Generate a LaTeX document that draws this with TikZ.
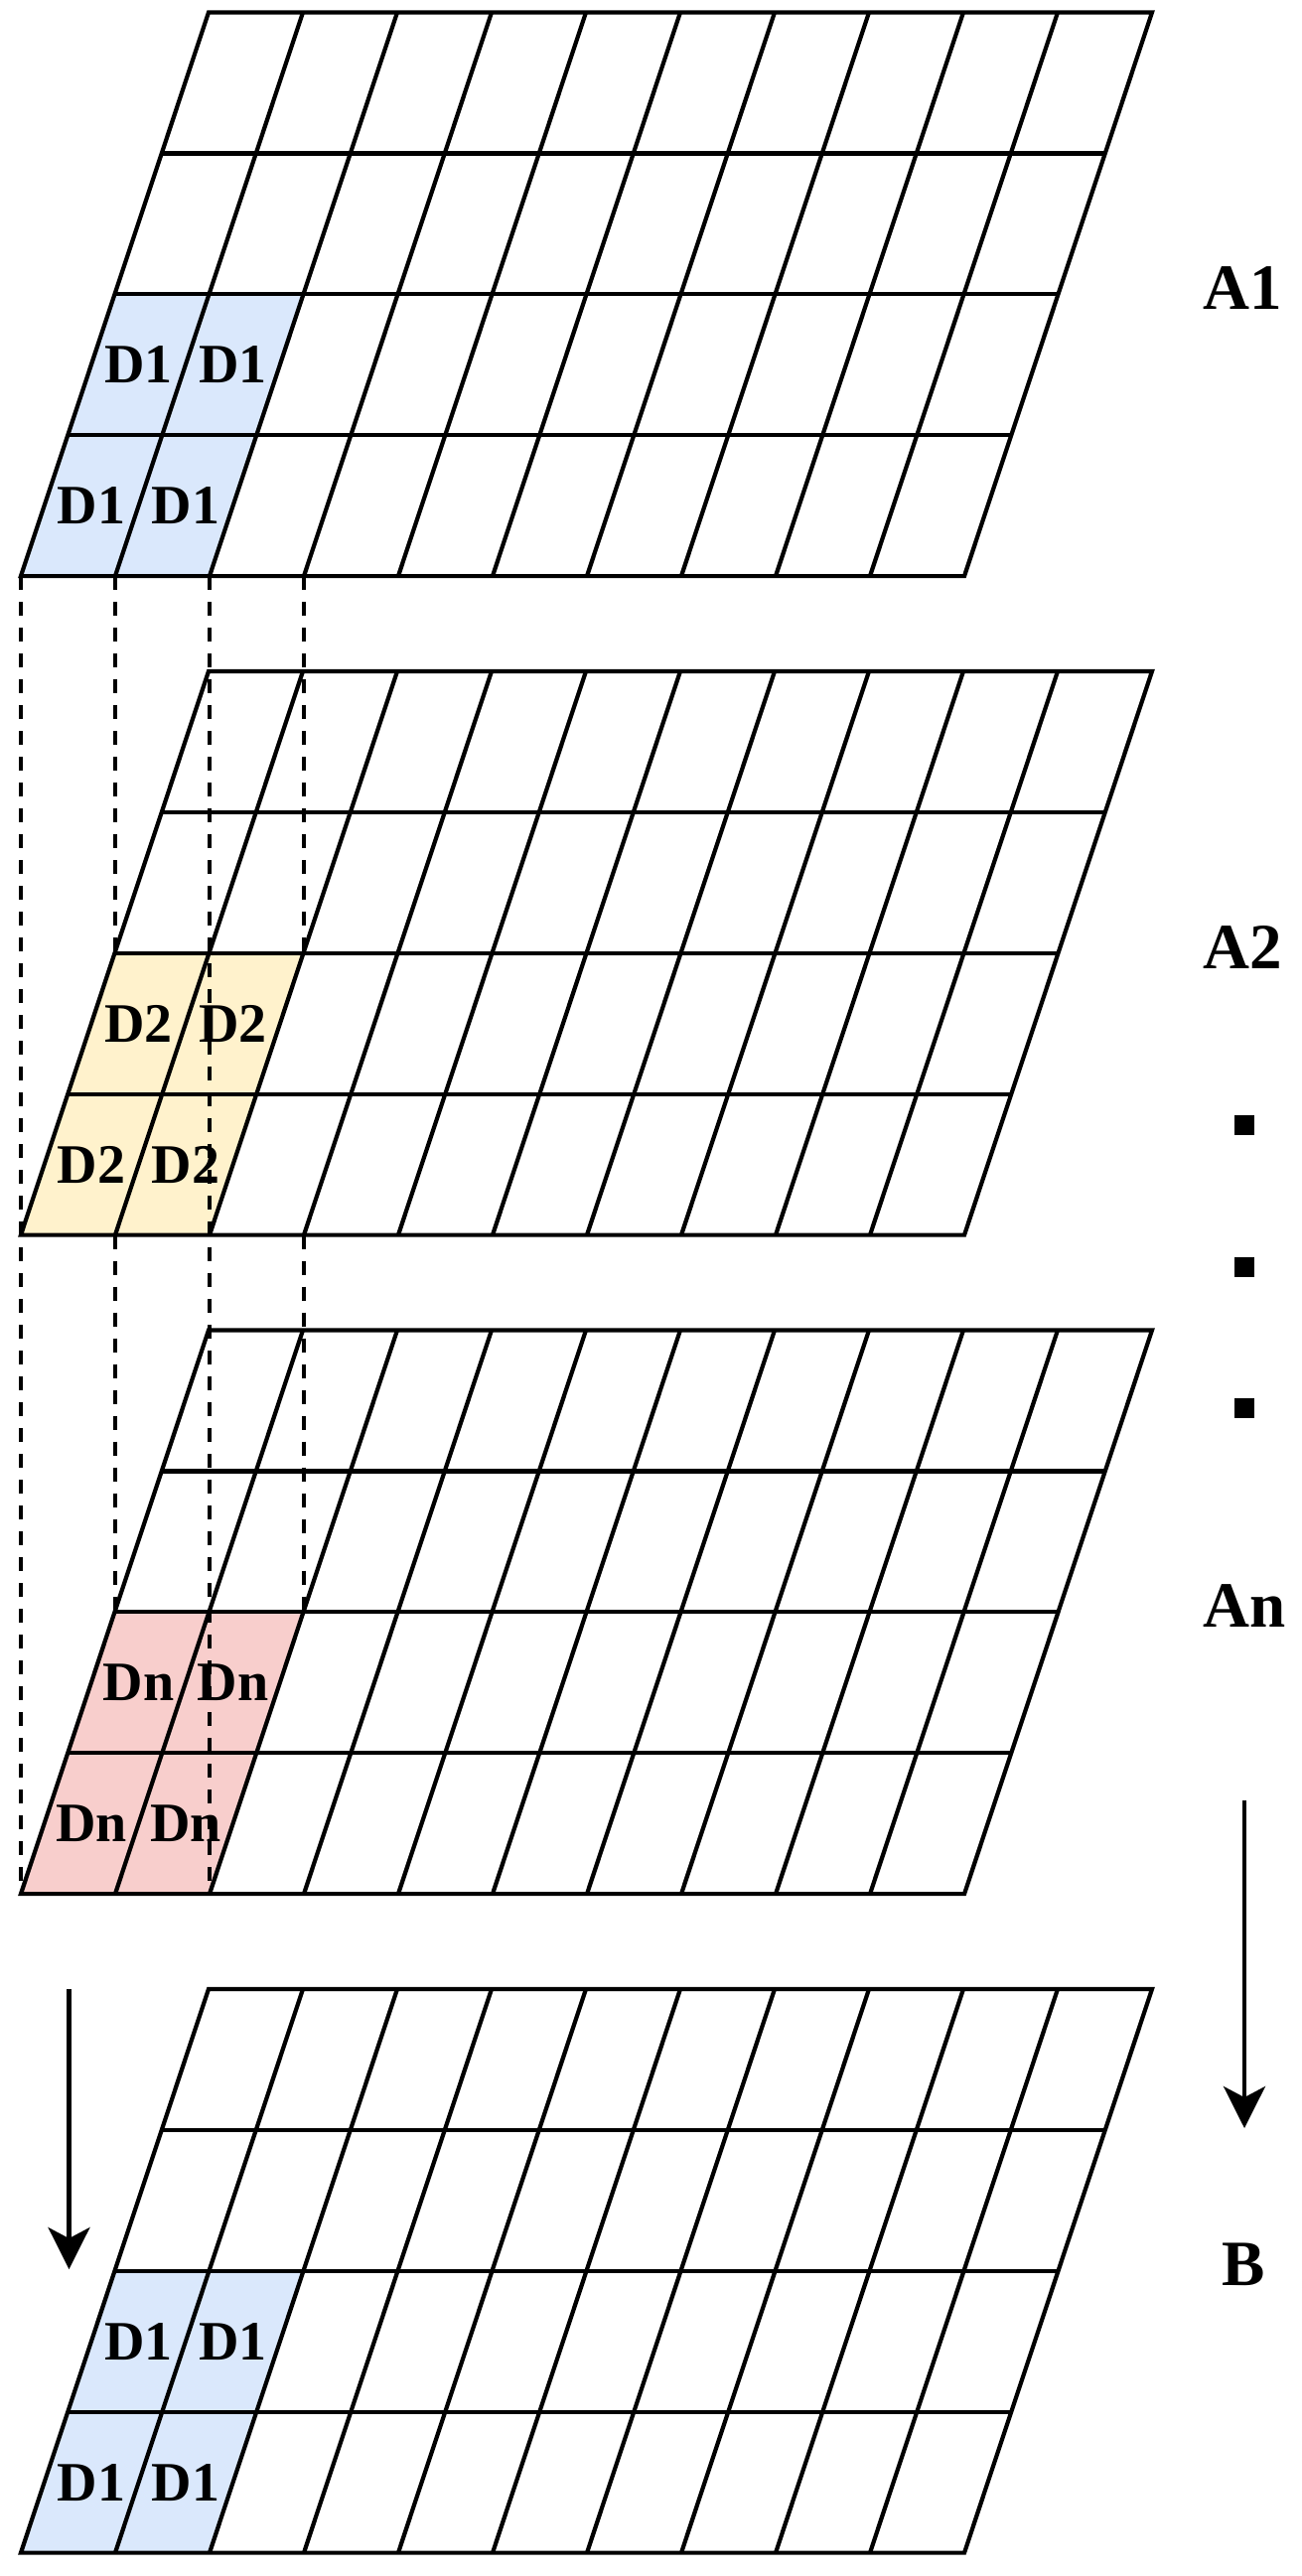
\documentclass[tikz,border=0pt]{standalone}
\usepackage{fontspec}
\setmainfont{Liberation Serif}
\usetikzlibrary{arrows.meta}
\definecolor{dblue}{HTML}{DAE8FC}
\definecolor{dyellow}{HTML}{FFF2CC}
\definecolor{dpink}{HTML}{F8CECC}
\tikzset{
  gridline/.style={line width=4.2pt, line join=miter},
  guide/.style={line width=4.2pt, dash pattern=on 14pt off 12pt},
  celltext/.style={font=\fontsize{56}{60}\selectfont\bfseries, inner sep=0pt},
  layertext/.style={font=\fontsize{65}{70}\selectfont\bfseries, inner sep=0pt},
  flow/.style={line width=4.2pt, -{Stealth[length=42pt,width=42pt,inset=11pt]}},
  dotbox/.style={fill=black, minimum size=20pt, inner sep=0pt, draw=none}
}
% #1 top y, #2 fill colour, #3 cell text, #4 name prefix
\newcommand\drawlayer[4]{%
  \fill[#2] (115.5,{#1+283.8}) -- (305.5,{#1+283.8}) -- (211,{#1+567.6}) -- (21,{#1+567.6}) -- cycle;
  \draw[gridline] (210,#1) -- (1160,#1) -- (971,{#1+567.6}) -- (21,{#1+567.6}) -- cycle;
  \foreach \i in {1,2,3}
    \draw[gridline] ({210-47.25*\i},{#1+141.9*\i}) -- ++(950,0);
  \foreach \j in {1,...,9}
    \draw[gridline] ({210+95*\j},#1) -- ({21+95*\j},{#1+567.6});
  \coordinate (#4-b0) at (21,{#1+567.6});
  \coordinate (#4-b1) at (116,{#1+567.6});
  \coordinate (#4-b2) at (211,{#1+567.6});
  \coordinate (#4-b3) at (306,{#1+567.6});
  \coordinate (#4-m0) at (115.5,{#1+283.8});
  \coordinate (#4-m2) at (305.5,{#1+283.8});
  \node[celltext] (#4-c20) at ({210-47.25*2.5+47.5},{#1+141.9*2.5}) {#3};
  \node[celltext] (#4-c21) at ({210-47.25*2.5+142.5},{#1+141.9*2.5}) {#3};
  \node[celltext] (#4-c30) at ({210-47.25*3.5+47.5},{#1+141.9*3.5}) {#3};
  \node[celltext] (#4-c31) at ({210-47.25*3.5+142.5},{#1+141.9*3.5}) {#3};
}
\begin{document}
\begin{tikzpicture}[x=1pt,y=-1pt]
\useasboundingbox[fill=white] (0,0) rectangle (1311,2594);

\drawlayer{12.5}{dblue}{D1}{g1}
\drawlayer{676}{dyellow}{D2}{g2}
\drawlayer{1339.5}{dpink}{Dn}{g3}
\drawlayer{2003}{dblue}{D1}{g4}

% vertical guide lines
\draw[guide] (g1-b0) -- (g3-b0);
\draw[guide] (g1-b2) -- (g3-b2);
\draw[guide] (g1-b1) -- (g1-b1 |- g2-m0);
\draw[guide] (g1-b3) -- (g1-b3 |- g2-m2);
\draw[guide] (g2-b1) -- (g2-b1 |- g3-m0);
\draw[guide] (g2-b3) -- (g2-b3 |- g3-m2);

% layer labels
\node[layertext] (la1) at (1251,290) {A1};
\node[layertext] (la2) at (1251,953.5) {A2};
\node[layertext] (lan) at (1253,1617) {An};
\node[layertext] (lb)  at (1252,2280.5) {B};

% dots
\node[dotbox] (dot1) at (1252.5,1133) {};
\node[dotbox] (dot2) at (1252.5,1275.5) {};
\node[dotbox] (dot3) at (1252.5,1417.5) {};

% arrows
\coordinate (ra1) at (1253,1813);
\coordinate (ra2) at (1253,2143);
\draw[flow] (ra1) -- (ra2);
\coordinate (la1s) at (69.5,2003);
\coordinate (la1e) at (69.5,2285);
\draw[flow] (la1s) -- (la1e);
\end{tikzpicture}
\end{document}
